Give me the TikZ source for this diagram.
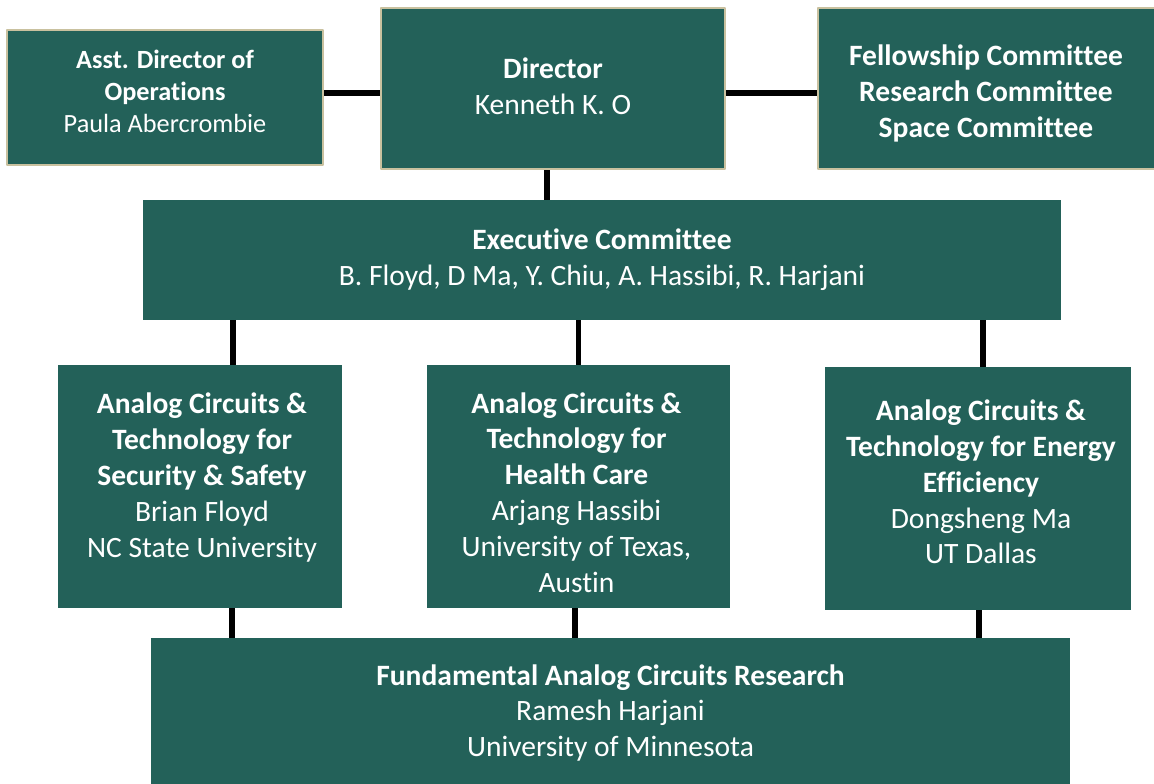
\documentclass[tikz,border=0pt]{standalone}
\usepackage{fontspec}
\setmainfont{Carlito}[Ligatures=NoCommon]
\usetikzlibrary{calc,positioning}
\definecolor{unitgreen}{RGB}{35,97,89}
\definecolor{unitrim}{RGB}{201,193,159}

\begin{document}
\begin{tikzpicture}[x=0.025cm, y=-0.025cm, line join=round,
    unit/.style={fill=unitgreen, inner sep=0pt},
    head/.style={unit, draw=unitrim, line width=1.5pt},
    txt/.style={text=white, align=center, inner sep=0pt,
        font=\fontsize{21}{25.5}\selectfont},
    link/.style={line width=4pt}]
    \useasboundingbox (0,0) rectangle (1154,783);
    % top row
    \node[head, minimum width=316*0.025cm, minimum height=135*0.025cm] (asst) at (165,97.5) {};
    \node[head, minimum width=344*0.025cm, minimum height=161*0.025cm] (dir) at (553,88.5) {};
    \node[head, minimum width=340*0.025cm, minimum height=161*0.025cm] (comm) at (988,88.5) {};
    \node[txt, font=\fontsize{18.7}{23}\selectfont] (asst-t) at ($(asst)+(0,-6)$)
        {\textbf{Asst. Director of}\\\textbf{Operations}\\Paula Abercrombie};
    \node[txt] (dir-t) at ($(dir)+(0,-2.5)$) {\textbf{Director}\\Kenneth K. O};
    \node[txt] (comm-t) at ($(comm)+(-2,5)$)
        {\textbf{Fellowship Committee}\\\textbf{Research Committee}\\\textbf{Space Committee}};
    % executive committee
    \node[unit, minimum width=918*0.025cm, minimum height=120*0.025cm] (exec) at (602,260) {};
    \node[txt] (exec-t) at (exec)
        {\textbf{Executive Committee}\\B. Floyd, D Ma, Y. Chiu, A. Hassibi, R. Harjani};
    % thrust areas
    \node[unit, minimum width=284*0.025cm, minimum height=243*0.025cm] (sec) at (200,486.5) {};
    \node[unit, minimum width=303*0.025cm, minimum height=243*0.025cm] (hc) at (578.5,486.5) {};
    \node[unit, minimum width=306*0.025cm, minimum height=243*0.025cm] (en) at (978,488.5) {};
    \node[txt] (sec-t) at ($(sec)+(2,-9)$)
        {\textbf{Analog Circuits \&}\\\textbf{Technology for}\\\textbf{Security \& Safety}\\Brian Floyd\\NC State University};
    \node[txt] (hc-t) at ($(hc)+(-2,6)$)
        {\textbf{Analog Circuits \&}\\\textbf{Technology for}\\\textbf{Health Care}\\Arjang Hassibi\\University of Texas,\\Austin};
    \node[txt] (en-t) at ($(en)+(3,-6.5)$)
        {\textbf{Analog Circuits \&}\\\textbf{Technology for Energy}\\\textbf{Efficiency}\\Dongsheng Ma\\UT Dallas};
    % fundamental research
    \node[unit, minimum width=919*0.025cm, minimum height=150*0.025cm] (fund) at (610.5,713) {};
    \node[txt] (fund-t) at (fund)
        {\textbf{Fundamental Analog Circuits Research}\\Ramesh Harjani\\University of Minnesota};
    % link end points
    \coordinate (l1) at ($(asst.east)+(0,-4.5)$);
    \coordinate (l2) at ($(dir.east)+(0,4.5)$);
    \coordinate (l3) at ($(dir.south)+(-6,0)$);
    \coordinate (l4) at ($(sec.north)+(33,0)$);
    \coordinate (l5) at (hc.north);
    \coordinate (l6) at ($(en.north)+(5,0)$);
    \coordinate (l7) at ($(sec.south)+(32,0)$);
    \coordinate (l8) at ($(hc.south)+(-3.5,0)$);
    \coordinate (l9) at ($(en.south)+(1,0)$);
    % links
    \draw[link] (l1) -- (l1 -| dir.west);
    \draw[link] (l2) -- (l2 -| comm.west);
    \draw[link] (l3) -- (l3 |- exec.north);
    \foreach \c in {l4,l5,l6}
        \draw[link] (\c) -- (\c |- exec.south);
    \foreach \c in {l7,l8,l9}
        \draw[link] (\c) -- (\c |- fund.north);
\end{tikzpicture}
\end{document}
